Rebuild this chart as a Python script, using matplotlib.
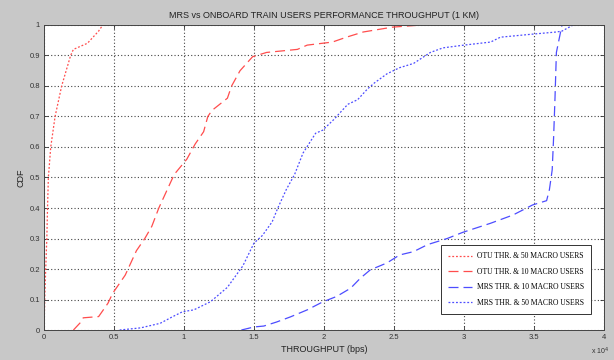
import matplotlib.pyplot as plt

# -----------------------------
# DATA (throughput in units of 1e4 bps)
# -----------------------------
otu50_x = [0.0, 0.005, 0.012, 0.02, 0.025, 0.031, 0.048, 0.079, 0.126, 0.19, 0.21,
           0.26, 0.31, 0.35, 0.39, 0.42]
otu50_y = [0.0, 0.1, 0.2, 0.3, 0.4, 0.5, 0.6, 0.7, 0.8, 0.9, 0.92,
           0.93, 0.94, 0.96, 0.98, 1.0]

otu10_x = [0.21, 0.257, 0.28, 0.39, 0.457, 0.49, 0.58, 0.66, 0.72, 0.77, 0.82, 0.88,
           0.93, 1.02, 1.08, 1.14, 1.17, 1.20, 1.31, 1.34, 1.40, 1.49, 1.59, 1.81,
           1.88, 2.06, 2.16, 2.28, 2.49, 2.70]
otu10_y = [0.0, 0.023, 0.04, 0.044, 0.088, 0.12, 0.18, 0.26, 0.30, 0.34, 0.40, 0.46,
           0.51, 0.56, 0.61, 0.65, 0.70, 0.72, 0.76, 0.80, 0.85, 0.896, 0.91, 0.92,
           0.934, 0.944, 0.96, 0.977, 0.993, 1.0]

mrs10_x = [1.41, 1.50, 1.57, 1.66, 1.76, 1.88, 1.99, 2.09, 2.19, 2.26, 2.33, 2.45,
           2.54, 2.64, 2.74, 2.88, 2.99, 3.19, 3.35, 3.49, 3.59, 3.61, 3.63, 3.64,
           3.65, 3.66, 3.70]
mrs10_y = [0.0, 0.01, 0.013, 0.026, 0.043, 0.066, 0.092, 0.11, 0.137, 0.17, 0.197, 0.22,
           0.246, 0.257, 0.28, 0.30, 0.32, 0.35, 0.377, 0.41, 0.424, 0.46, 0.525, 0.63,
           0.76, 0.91, 1.0]

mrs50_x = [0.54, 0.69, 0.83, 0.92, 0.99, 1.07, 1.19, 1.31, 1.42, 1.50, 1.56, 1.63,
           1.67, 1.73, 1.79, 1.85, 1.94, 1.99, 2.07, 2.11, 2.17, 2.24, 2.31, 2.36,
           2.45, 2.54, 2.64, 2.76, 2.85, 3.00, 3.19, 3.26, 3.49, 3.66, 3.70, 3.74, 3.78]
mrs50_y = [0.0, 0.007, 0.022, 0.044, 0.06, 0.066, 0.093, 0.14, 0.21, 0.285, 0.31, 0.355,
           0.40, 0.46, 0.51, 0.58, 0.645, 0.655, 0.69, 0.71, 0.74, 0.755, 0.79, 0.81,
           0.84, 0.86, 0.874, 0.91, 0.925, 0.934, 0.944, 0.96, 0.97, 0.977, 0.98, 0.99, 1.0]

labels = ["OTU THR. & 50 MACRO USERS", "OTU THR. & 10 MACRO USERS",
          "MRS THR. & 10 MACRO USERS", "MRS THR. & 50 MACRO USERS"]

# -----------------------------
# PLOT
# -----------------------------
plt.rcParams['font.family'] = ['Liberation Sans', 'DejaVu Sans']

fig = plt.figure(figsize=(6.14, 3.6), dpi=100, facecolor='#c8c8c8')
ax = fig.add_axes([0.0717, 0.0833, 0.912, 0.8473])
ax.set_facecolor('white')

red = '#ff4d4d'
blue = '#4d4dff'
ax.plot(otu50_x, otu50_y, color=red, linestyle=(0, (1.5, 1.5)), lw=0.9, label=labels[0])
ax.plot(otu10_x, otu10_y, color=red, linestyle=(0, (8, 4)), lw=0.9, label=labels[1])
ax.plot(mrs10_x, mrs10_y, color=blue, linestyle=(0, (8, 4)), lw=0.9, label=labels[2])
ax.plot(mrs50_x, mrs50_y, color=blue, linestyle=(0, (1.5, 1.5)), lw=0.9, label=labels[3])

ax.set_xlim(0, 4)
ax.set_ylim(0, 1)
ax.set_xticks([0, 0.5, 1, 1.5, 2, 2.5, 3, 3.5, 4])
ax.set_xticklabels(['0', '0.5', '1', '1.5', '2', '2.5', '3', '3.5', '4'])
ax.set_yticks([i / 10 for i in range(11)])
ax.set_yticklabels(['0', '0.1', '0.2', '0.3', '0.4', '0.5', '0.6', '0.7', '0.8', '0.9', '1'])
ax.tick_params(direction='in', labelsize=5.5, length=3, width=0.6, colors='#333333',
               top=True, right=True, pad=3)
ax.grid(True, color='#444444', linestyle=(0, (1, 2)), lw=0.8)
for s in ax.spines.values():
    s.set_color('#444444')
    s.set_linewidth(0.7)

ax.set_title("MRS vs ONBOARD TRAIN USERS PERFORMANCE THROUGHPUT (1 KM)", fontsize=6.5,
             color='#222222', pad=5)
ax.set_xlabel("THROUGHPUT (bps)", fontsize=6.5, color='#222222', labelpad=3)
ax.set_ylabel("CDF", fontsize=6.5, color='#222222', labelpad=3)
fig.text(0.977, 0.015, r"x 10$^4$", fontsize=5, color='#333333', ha='center')

leg = ax.legend(loc='lower right', bbox_to_anchor=(0.983, 0.04),
                prop={'family': 'Liberation Serif', 'size': 5.5},
                handlelength=3.2, handletextpad=0.6, fancybox=False, framealpha=1,
                edgecolor='#333333', borderpad=0.9, labelspacing=1.0)
leg.get_frame().set_linewidth(0.7)

plt.savefig("out.png", dpi=100, facecolor=fig.get_facecolor())
